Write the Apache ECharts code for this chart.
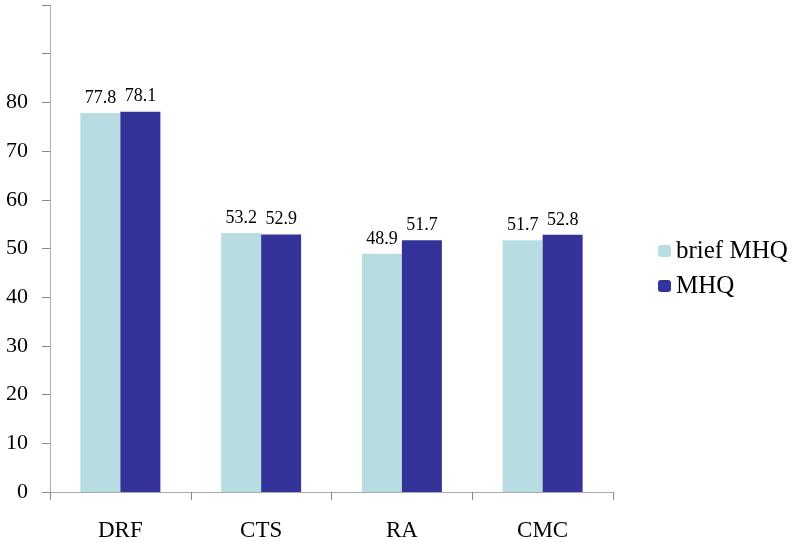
<!DOCTYPE html>
<html><head><meta charset="utf-8">
<script src="https://cdn.jsdelivr.net/npm/echarts@6/dist/echarts.min.js"></script>
<style>html,body{margin:0;padding:0;background:#fff}#c{width:800px;height:542px}</style>
</head><body><div id="c"></div>
<script>
var categories = ['DRF', 'CTS', 'RA', 'CMC'];
var briefMHQ = [77.8, 53.2, 48.9, 51.7];
var MHQ = [78.1, 52.9, 51.7, 52.8];
var seriesNames = ['brief MHQ', 'MHQ'];
var yTickLabels = ['0','10','20','30','40','50','60','70','80','',''];

var font = '"Liberation Serif", "Times New Roman", serif';
var chart = echarts.init(document.getElementById('c'));
chart.setOption({
  animation: false,
  backgroundColor: '#fff',
  grid: { left: 50, right: 187, top: 5, bottom: 50, containLabel: false },
  legend: {
    orient: 'vertical', left: 653, top: 233,
    itemWidth: 13, itemHeight: 12, itemGap: 9,
    textStyle: { fontFamily: font, fontSize: 25, color: '#000', lineHeight: 26 },
    data: seriesNames
  },
  xAxis: {
    type: 'category', data: categories,
    axisLine: { lineStyle: { color: '#aaa', width: 1 } },
    axisTick: { show: true, alignWithLabel: false, length: 8, lineStyle: { color: '#888' } },
    axisLabel: { fontFamily: font, fontSize: 23, color: '#000', margin: 27 }
  },
  yAxis: {
    type: 'value', min: 0, max: 100, interval: 10,
    axisLine: { show: true, lineStyle: { color: '#aaa', width: 1 } },
    axisTick: { show: true, length: 8, lineStyle: { color: '#888' } },
    splitLine: { show: false },
    axisLabel: { fontFamily: font, fontSize: 22, color: '#000', margin: 22,
      formatter: function (v) { return yTickLabels[Math.round(v / 10)]; } }
  },
  series: [
    { name: seriesNames[0], type: 'bar', data: briefMHQ, barWidth: 40, barGap: '0%',
      itemStyle: { color: '#B7DDE2' },
      label: { show: true, position: 'top', distance: 6, fontFamily: font, fontSize: 18, color: '#000' } },
    { name: seriesNames[1], type: 'bar', data: MHQ, barWidth: 40, barGap: '0%',
      itemStyle: { color: '#333399' },
      label: { show: true, position: 'top', distance: 6, fontFamily: font, fontSize: 18, color: '#000' } }
  ]
});
</script></body></html>
